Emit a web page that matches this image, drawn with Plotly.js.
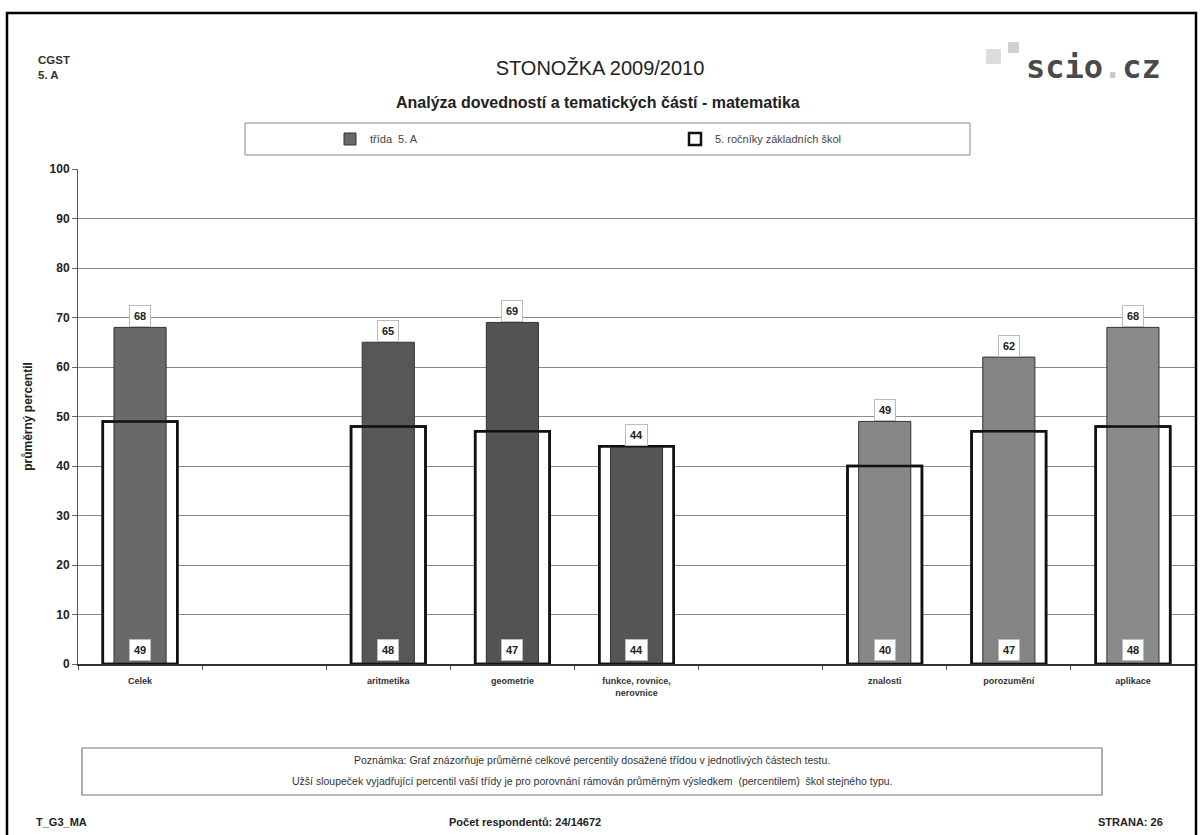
<!DOCTYPE html>
<html>
<head>
<meta charset="utf-8">
<script src="https://cdn.plot.ly/plotly-3.0.1.min.js"></script>
<style>
  html, body { margin: 0; padding: 0; background: #fff; }
  #chart { width: 1200px; height: 835px; }
</style>
</head>
<body>
<div id="chart"></div>
<script>
// ---- data ----
const categories = ["Celek", " ", "aritmetika", "geometrie", "funkce, rovnice,<br>nerovnice", "  ", "znalosti", "porozumění", "aplikace"];
const classValues = [68, null, 65, 69, 44, null, 49, 62, 68];      // třída 5. A
const schoolValues = [49, null, 48, 47, 44, null, 40, 47, 48];     // 5. ročníky základních škol
const yTicks = [0, 10, 20, 30, 40, 50, 60, 70, 80, 90, 100];
const seriesNames = ["třída  5. A", "5. ročníky základních škol"];

// ---- style ----
const innerColors = ["#696969", "#666", "#575757", "#535353", "#555555", "#666", "#878787", "#848484", "#8a8a8a"];
const FONT = "Arial, 'Liberation Sans', sans-serif";

// plot-area geometry in pixels (for paper conversions)
const L = 78, R = 5, T = 169, B = 171, W = 1200, H = 835;
const PW = W - L - R, PH = H - T - B;
const px = x => (x - L) / PW;
const py = y => (H - B - y) / PH;

const traces = [
  { // outer bar fill (schools), behind
    type: "bar", x: categories, y: schoolValues, width: 0.6,
    name: seriesNames[1], legendrank: 2,
    marker: { color: "#ffffff", line: { color: "#111", width: 2.5 } },
    hoverinfo: "skip"
  },
  { // inner bar (class)
    type: "bar", x: categories, y: classValues, width: 0.42,
    name: seriesNames[0], legendrank: 1,
    marker: { color: innerColors, line: { color: "#333", width: 1 } },
    hoverinfo: "skip"
  },
  { // outer outline on top
    type: "bar", x: categories, y: schoolValues, width: 0.6,
    showlegend: false,
    marker: { color: "rgba(0,0,0,0)", line: { color: "#111", width: 2.5 } },
    hoverinfo: "skip"
  }
];

const annotations = [];
categories.forEach((c, i) => {
  if (classValues[i] != null) {
    annotations.push({
      x: c, y: classValues[i], xref: "x", yref: "y", yanchor: "bottom",
      text: "<b>" + classValues[i] + "</b>", showarrow: false,
      bgcolor: "#fff", bordercolor: "#bbb", borderwidth: 1, borderpad: 4,
      font: { family: FONT, size: 11, color: "#222" }
    });
  }
  if (schoolValues[i] != null) {
    annotations.push({
      x: c, y: 0, xref: "x", yref: "y", yanchor: "bottom", yshift: 3,
      text: "<b>" + schoolValues[i] + "</b>", showarrow: false,
      bgcolor: "#fff", bordercolor: "#bbb", borderwidth: 1, borderpad: 4,
      font: { family: FONT, size: 11, color: "#222" }
    });
  }
});

// header texts
annotations.push(
  { xref: "paper", yref: "paper", x: px(36), y: py(60), xanchor: "left", yanchor: "middle", showarrow: false,
    text: "<b>CGST</b>", font: { family: FONT, size: 11.5, color: "#333" } },
  { xref: "paper", yref: "paper", x: px(36), y: py(75), xanchor: "left", yanchor: "middle", showarrow: false,
    text: "<b>5. A</b>", font: { family: FONT, size: 11.5, color: "#333" } },
  { xref: "paper", yref: "paper", x: px(598), y: py(102), xanchor: "center", yanchor: "middle", showarrow: false,
    text: "<b>Analýza dovedností a tematických částí - matematika</b>", font: { family: FONT, size: 16, color: "#222" } },
  { xref: "paper", yref: "paper", x: px(1024), y: py(67), xanchor: "left", yanchor: "middle", showarrow: false,
    text: "<b>scio<span style='color:#c8c8c8'>.</span>cz</b>", font: { family: "'DejaVu Sans Mono', monospace", size: 32, color: "#4a4a4a" } },
  // note
  { xref: "paper", yref: "paper", x: px(592), y: py(760), xanchor: "center", yanchor: "middle", showarrow: false,
    text: "Poznámka: Graf znázorňuje průměrné celkové percentily dosažené třídou v jednotlivých částech testu.",
    font: { family: FONT, size: 10.5, color: "#333" } },
  { xref: "paper", yref: "paper", x: px(592), y: py(781), xanchor: "center", yanchor: "middle", showarrow: false,
    text: "Užší sloupeček vyjadřující percentil vaší třídy je pro porovnání rámován průměrným výsledkem  (percentilem)  škol stejného typu.",
    font: { family: FONT, size: 10.5, color: "#333" } },
  // footer
  { xref: "paper", yref: "paper", x: px(34), y: py(822), xanchor: "left", yanchor: "middle", showarrow: false,
    text: "<b>T_G3_MA</b>", font: { family: FONT, size: 11, color: "#222" } },
  { xref: "paper", yref: "paper", x: px(525), y: py(822), xanchor: "center", yanchor: "middle", showarrow: false,
    text: "<b>Počet respondentů: 24/14672</b>", font: { family: FONT, size: 11, color: "#222" } },
  { xref: "paper", yref: "paper", x: px(1165), y: py(822), xanchor: "right", yanchor: "middle", showarrow: false,
    text: "<b>STRANA: 26</b>", font: { family: FONT, size: 11, color: "#222" } }
);

const shapes = [
  // page frame
  { type: "rect", xref: "paper", yref: "paper", x0: px(7), x1: px(1196), y0: py(845), y1: py(13),
    line: { color: "#000", width: 2.5 }, layer: "above" },
  // legend box
  { type: "rect", xref: "paper", yref: "paper", x0: px(245), x1: px(970), y0: py(155), y1: py(123),
    line: { color: "#888", width: 1 } },
  // note box
  { type: "rect", xref: "paper", yref: "paper", x0: px(82), x1: px(1102), y0: py(795), y1: py(748),
    line: { color: "#777", width: 1.2 } },
  // logo squares
  { type: "rect", xref: "paper", yref: "paper", x0: px(986), x1: px(1001), y0: py(64), y1: py(49),
    line: { width: 0 }, fillcolor: "#dcdcdc" },
  { type: "rect", xref: "paper", yref: "paper", x0: px(1008), x1: px(1019), y0: py(53), y1: py(42),
    line: { width: 0 }, fillcolor: "#d0d0d0" }
];

const layout = {
  width: W, height: H,
  margin: { l: L, r: R, t: T, b: B },
  paper_bgcolor: "#fff", plot_bgcolor: "#fff",
  font: { family: FONT, color: "#222" },
  barmode: "overlay",
  title: {
    text: "STONOŽKA 2009/2010",
    font: { family: FONT, size: 20, color: "#222" },
    xref: "container", yref: "container", x: 0.5, y: 1 - 68 / H, xanchor: "center", yanchor: "middle"
  },
  xaxis: {
    type: "category",
    tickson: "boundaries", ticks: "outside", ticklen: 4, tickcolor: "#555",
    showline: true, linecolor: "#333", linewidth: 1.5,
    showgrid: false, tickangle: 0, ticklabelstandoff: 8,
    tickfont: { family: FONT, size: 9, color: "#333", weight: "bold" },
    range: [-0.5, 8.5], fixedrange: true
  },
  yaxis: {
    range: [0, 100], tickvals: yTicks, ticks: "outside", ticklen: 5, tickcolor: "#666",
    showline: true, linecolor: "#555", linewidth: 1,
    showgrid: true, gridcolor: "#8a8a8a", gridwidth: 1,
    zeroline: false,
    tickfont: { family: FONT, size: 12, color: "#222", weight: "bold" },
    title: { text: "<b>průměrný percentil</b>", font: { family: FONT, size: 12, color: "#222" }, standoff: 14 },
    fixedrange: true
  },
  showlegend: true,
  legend: {
    orientation: "h", x: px(330), y: py(139), xanchor: "left", yanchor: "middle",
    entrywidth: 300, entrywidthmode: "pixels", itemwidth: 30,
    font: { family: FONT, size: 11, color: "#444" },
    bgcolor: "rgba(0,0,0,0)", borderwidth: 0
  },
  annotations: annotations,
  shapes: shapes
};

Plotly.newPlot("chart", traces, layout, { displayModeBar: false, staticPlot: true });
</script>
</body>
</html>
